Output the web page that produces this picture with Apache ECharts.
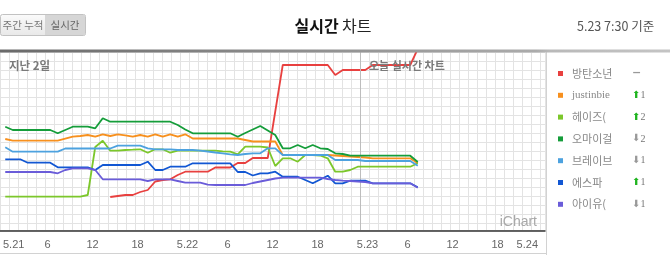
<!DOCTYPE html>
<html><head><meta charset="utf-8">
<script src="https://cdn.jsdelivr.net/npm/echarts@6/dist/echarts.min.js"></script>
<style>html,body{margin:0;padding:0;background:#fff;overflow:hidden}#c{width:670px;height:255px;}</style>
</head><body><div id="c"></div>
<script>
// ---- data (values = score, higher = upper on chart) ----
const names = ['방탄소년','justinbie','헤이즈(','오마이걸','브레이브','에스파','아이유('];
const colors = ['#e8403f','#f7901e','#7cc72b','#159d3a','#4da2df','#1257d3','#6a5cd9'];
const changeDir = ['', 'up', 'up', 'down', 'down', 'up', 'down'];
const changeNum = ['', '1', '2', '2', '1', '1', '1'];
const tickLabels = ['5.21','6','12','18','5.22','6','12','18','5.23','6','12','18','5.24'];
// hour offsets from 5.21 00:00
const hours = [0.7,1.7,2.7,3.7,4.7,5.7,6.7,7.7,8.7,9.7,10.7,11.7,12.7,13.7,14.7,15.7,16.7,17.7,18.7,19.7,
  20.7,21.7,22.7,23.7,24.7,25.7,26.7,27.7,28.7,29.7,30.7,31.7,32.7,33.7,34.7,35.7,36.7,37.7,38.7,39.7,
  40.7,41.7,42.7,43.7,44.7,45.7,46.7,47.7,48.7,49.7,50.7,51.7,52.7,53.7,54.7,55.7];
const bts = [null,null,null,null,null,null,null,null,null,null,null,null,null,null,
  33,34,35,35,38,40,48.5,50,50.7,55,
  58.3,58.3,58.3,58.3,62.5,62.5,62.5,67,67,72,
  72,72,118.5,165,165,165,165,165,165,165,
  155,160,160,160,160,165,165,165,165,165,165,181];
const justin = [91,89.3,89.3,89.3,89.3,89.3,89.3,89.3,
  91.3,93.3,94,95,93.3,95.7,94,95.7,94.7,93.3,95,93.3,95.7,93.3,95.7,93.3,95.7,
  91.5,91.5,91.5,91.5,91.5,91.5,91.5,90,88.5,88.5,88.5,88.5,
  75,75,75,75,75,75,75,74.5,74,73.5,73,72.5,71.7,71.7,71.7,71.7,71.7,71.7,66.7];
const heize = [33.3,33.3,33.3,33.3,33.3,33.3,33.3,33.3,33.3,33.3,33.3,35,83,89.3,
  79.3,79.3,80,80.3,80.7,77.3,80.7,80.7,77.3,
  79.3,79.3,79.3,79.3,79.3,79.3,78.7,78.3,75.7,83.3,83.3,83.3,
  82.5,64,71.7,71.7,68.3,75,75,74.5,71.7,58.3,58.3,60,
  63.3,63.3,63.3,63.3,63.3,63.3,63.3,63.3,66.7];
const ohmygirl = [103.3,100,100,100,100,100,100,96.7,100,103.3,103.3,103.3,101.7,111.7,
  108.3,108.3,108.3,108.3,108.3,108.3,108.3,108.3,108.3,105,100.5,
  96.7,96.7,96.7,96.7,96.7,96.7,
  93.3,97,100.5,104,99.5,95,81.7,81.7,85,81.7,85,81.7,81,76.7,76,
  74.3,74.3,74.3,74.3,74.3,74.3,74.3,74.3,74.3,68];
const brave = [82.7,78.3,78.3,78.3,78.3,78.3,78.3,78.3,81.5,81.5,81.5,81.5,81.5,81.5,81.5,
  84.3,84.3,84.3,84.3,81.7,80.7,80.7,80.7,80,80,80,
  79.3,78.5,77.5,76.7,75.7,75,76,76.7,76.7,81.7,81.7,
  75,75,75,75,75,75,75,70,70,70,70,69,69,69,69,69,69,69,64.3];
const aespa = [70.7,70.7,70.7,67.3,67.3,67.3,67.3,62.7,62.7,62.7,62.7,62.7,60,
  65,65,65,65,65,65,68.3,60,60,63.3,63.3,63.3,
  66.7,66.7,66.7,66.7,66.7,66.7,58,58,54.5,56.7,56.7,58.3,53.3,53.3,53.3,
  50,46.7,50.5,54.3,46.7,46.7,49.3,49.3,49.3,46.7,46.7,46.7,46.7,46.7,46.7,42.7];
const iu = [58,58,58,58,58,58,58,56.7,60,61.7,61.7,61.7,60,
  50.7,50.7,50.7,50.7,50.7,50.7,49,50.7,50.7,50.7,49,47.3,47.3,47.3,45.3,
  45,45,45,45,45,47,48.5,50,51.5,52.3,52.3,52.3,52.3,52.3,52.3,
  51,50,49.3,49,48.5,48,46.7,46.7,46.7,46.7,46.7,46.7,42.3];
const seriesValues = [bts, justin, heize, ohmygirl, brave, aespa, iu];
const todayStart = 48; // hour offset of 5.23 00:00

// ---- chart ----
const chart = echarts.init(document.getElementById('c'), null, {renderer: 'canvas'});
const KR = '"Noto Sans CJK KR", "Noto Sans", sans-serif';
const LAB = 'Liberation Sans, Arial, sans-serif';

const series = names.map((n, i) => ({
  name: n, type: 'line', xAxisIndex: 0, yAxisIndex: 0,
  data: hours.map((h, k) => [h, seriesValues[i][k]]),
  showSymbol: false, symbol: 'none', connectNulls: false, clip: true,
  color: colors[i],
  lineStyle: {width: 1.8, color: colors[i]},
  emphasis: {disabled: true}, z: 3 + i,
  markLine: i === 0 ? {symbol: 'none', silent: true, label: {show: false},
    lineStyle: {color: '#bdbdbd', width: 1, type: 'solid'}, data: [{xAxis: todayStart}]} : undefined
}));

const option = {
  animation: false,
  backgroundColor: '#fff',
  grid: [
    {left: 0, top: 52, width: 540, height: 178},
    {left: 0, top: 52.5, width: 545, height: 178}
  ],
  xAxis: [
    {gridIndex: 0, type: 'value', min: 0, max: 72, interval: 6,
     axisLine: {show: false}, axisTick: {show: false}, splitLine: {show: false},
     axisLabel: {show: true, margin: 9, color: '#666', fontSize: 11, fontFamily: LAB,
       alignMinLabel: 'left', alignMaxLabel: 'right',
       formatter: v => {
         const t = tickLabels[Math.round(v / 6)];
         if (v === 0) return '{s|' + t + '}';
         if (v === 72) return '{e|' + t + '}';
         if (v % 24 === 0) return '{d|' + t + '}';
         return '{h|' + t + '}';
       },
       rich: {
         s: {padding: [0, 0, 0, 3], fontSize: 11, color: '#666', fontFamily: LAB},
         e: {padding: [0, 2, 0, 0], fontSize: 11, color: '#666', fontFamily: LAB},
         d: {padding: [0, 0, 0, 15], fontSize: 11, color: '#666', fontFamily: LAB},
         h: {padding: [0, 0, 0, 5], fontSize: 11, color: '#666', fontFamily: LAB}
       }}},
    {gridIndex: 1, type: 'value', min: 0, max: 545, interval: 9,
     axisLine: {show: true, onZero: false, lineStyle: {color: '#333', width: 1.5}},
     axisTick: {show: false}, axisLabel: {show: false},
     splitLine: {show: true, lineStyle: {color: '#e3e3e3', width: 1}}}
  ],
  yAxis: [
    {gridIndex: 0, type: 'value', min: 0, max: 178, show: false},
    {gridIndex: 1, type: 'value', min: 0, max: 178, interval: 9, inverse: true,
     axisLine: {show: false}, axisTick: {show: false}, axisLabel: {show: false},
     splitLine: {show: true, lineStyle: {color: '#e3e3e3', width: 1}}}
  ],
  legend: {
    orient: 'vertical', left: 558, top: 68, padding: 0, itemWidth: 5, itemHeight: 5, itemGap: 10.8,
    icon: 'rect', selectedMode: false,
    data: names,
    formatter: name => {
      const i = names.indexOf(name);
      const ns = name === 'justinbie' ? 'ns' : 'n';
      let tail;
      if (!changeDir[i]) tail = '{dash|−}';
      else tail = '{' + changeDir[i] + '|' + (changeDir[i] === 'up' ? '⬆' : '⬇') + '}{num|' + changeNum[i] + '}';
      return '{' + ns + '|' + name + '}' + tail;
    },
    textStyle: {
      rich: {
        n: {width: 60, padding: [0, 0, 0, 4], fontSize: 11, lineHeight: 14, color: '#888', fontFamily: KR},
        ns: {width: 60, padding: [0, 0, 0, 4], fontSize: 11, lineHeight: 14, color: '#888', fontFamily: 'Liberation Serif, serif'},
        dash: {fontSize: 11, lineHeight: 14, color: '#999', fontFamily: 'DejaVu Sans', fontWeight: 'bold'},
        up: {fontSize: 10, lineHeight: 14, color: '#1fb41f', fontFamily: 'DejaVu Sans'},
        down: {fontSize: 10, lineHeight: 14, color: '#999', fontFamily: 'DejaVu Sans'},
        num: {fontSize: 10, lineHeight: 14, color: '#777', fontFamily: 'Liberation Serif, serif'}
      }
    }
  },
  graphic: [
    // top bar
    {type: 'rect', silent: true, z: 100, shape: {x: 0, y: 49.5, width: 670, height: 3},
     style: {fill: new echarts.graphic.LinearGradient(0, 0, 1, 0, [
       {offset: 0, color: '#6a6a6a'}, {offset: 0.8, color: '#ababab'}, {offset: 0.82, color: '#b9b9b9'}, {offset: 1, color: '#c4c4c4'}])}},
    // frame lines
    {type: 'line', silent: true, z: 50, shape: {x1: 546.5, y1: 52, x2: 546.5, y2: 255}, style: {stroke: '#d2d2d2', lineWidth: 1}},
    {type: 'line', silent: true, z: 50, shape: {x1: 0, y1: 253.5, x2: 546, y2: 253.5}, style: {stroke: '#d2d2d2', lineWidth: 1}},
    // header button
    {type: 'rect', silent: true, z: 100, shape: {x: 0.5, y: 14.5, width: 85, height: 21, r: 2},
     style: {fill: new echarts.graphic.LinearGradient(0, 0, 0, 1, [{offset: 0, color: '#fbfbfb'}, {offset: 1, color: '#e8e8e8'}]), stroke: '#c2c2c2', lineWidth: 1}},
    {type: 'rect', silent: true, z: 101, shape: {x: 45, y: 15, width: 40, height: 20},
     style: {fill: '#d6d6d6'}},
    {type: 'text', silent: true, z: 102, style: {x: 23, y: 25, text: '주간 누적', align: 'center', verticalAlign: 'middle', fill: '#777', font: '10.5px ' + KR}},
    {type: 'text', silent: true, z: 102, style: {x: 65, y: 25, text: '실시간', align: 'center', verticalAlign: 'middle', fill: '#666', font: '10.5px ' + KR}},
    // title
    {type: 'text', silent: true, z: 100, style: {x: 333, y: 26, align: 'center', verticalAlign: 'middle',
      text: '{b|실시간} {r|차트}', rich: {
        b: {fontSize: 16, fontWeight: 'bold', fill: '#111', fontFamily: KR},
        r: {fontSize: 16, fill: '#222', fontFamily: KR}}}},
    {type: 'text', silent: true, z: 100, style: {x: 577, y: 26, text: '5.23 7:30 기준', verticalAlign: 'middle', fill: '#555', font: '12.5px ' + KR}},
    // plot annotations
    {type: 'text', silent: true, z: 100, style: {x: 9, y: 66, text: '지난 2일', verticalAlign: 'middle', fill: '#7a7a7a', font: 'bold 11.5px ' + KR}},
    {type: 'text', silent: true, z: 100, style: {x: 369, y: 66, text: '오늘 실시간 차트', verticalAlign: 'middle', fill: '#7a7a7a', font: 'bold 11px ' + KR}},
    {type: 'text', silent: true, z: 100, style: {x: 537, y: 222, text: 'iChart', align: 'right', verticalAlign: 'middle', fill: '#a8a8a8', font: '14px ' + LAB}}
  ],
  series: series
};
chart.setOption(option);
</script>
</body></html>
